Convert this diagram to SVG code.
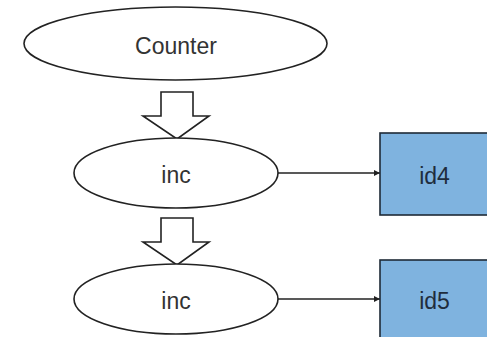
<svg xmlns="http://www.w3.org/2000/svg" width="487" height="337" viewBox="0 0 487 337">
  <style>
    .ell { fill: #ffffff; stroke: #222222; stroke-width: 1.6; }
    .box { fill: #7fb3df; stroke: #1e2a36; stroke-width: 1.6; }
    .flow { fill: #ffffff; stroke: #222222; stroke-width: 1.6; stroke-linejoin: miter; }
    .edge { fill: none; stroke: #222222; stroke-width: 1.3; marker-end: url(#tip); }
    .lbl { font-family: "Liberation Sans", Arial, sans-serif; font-size: 23px; fill: #333333; text-anchor: middle; }
    .lbl-box { fill: #1f2d3d; }
  </style>
  <defs>
    <marker id="tip" viewBox="0 0 10 10" refX="10" refY="5" markerWidth="9" markerHeight="6" markerUnits="userSpaceOnUse" orient="auto">
      <path d="M0,0 L10,5 L0,10 z" fill="#222222"/>
    </marker>
  </defs>

  <rect width="487" height="337" fill="#ffffff"/>

  <!-- connectors -->
  <g id="connectors">
    <path class="flow" d="M161,92 H193 V116 H209 L177,139 L143,116 H161 Z"/>
    <path class="flow" d="M161,218 H193 V242 H209 L177,265 L143,242 H161 Z"/>
    <line class="edge" x1="278" y1="173" x2="380" y2="173"/>
    <line class="edge" x1="278" y1="299" x2="380" y2="299"/>
  </g>

  <g id="counter">
    <ellipse class="ell" cx="175.5" cy="43.5" rx="151.5" ry="36.5"/>
    <text class="lbl" x="176" y="54">Counter</text>
  </g>

  <g id="inc1">
    <ellipse class="ell" cx="176" cy="173" rx="102" ry="35"/>
    <text class="lbl" x="176" y="182.5">inc</text>
  </g>

  <g id="inc2">
    <ellipse class="ell" cx="176" cy="299" rx="102" ry="35"/>
    <text class="lbl" x="176" y="308.5">inc</text>
  </g>

  <g id="id4">
    <rect class="box" x="380" y="133" width="112" height="82"/>
    <text class="lbl lbl-box" x="434.5" y="183.5">id4</text>
  </g>

  <g id="id5">
    <rect class="box" x="380" y="260" width="112" height="82"/>
    <text class="lbl lbl-box" x="434.5" y="308.5">id5</text>
  </g>
</svg>
